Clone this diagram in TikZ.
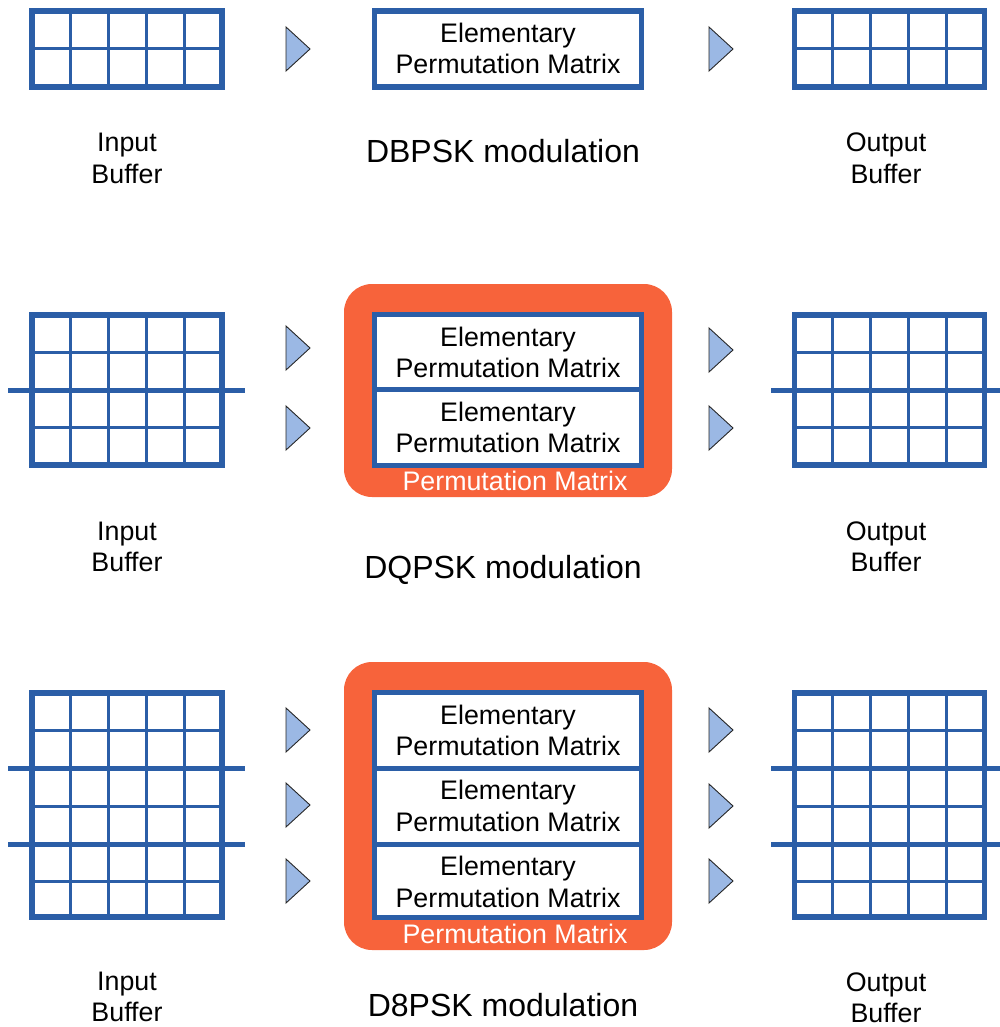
\documentclass[tikz,border=0pt]{standalone}
\usepackage{fontspec}
\setmainfont{Liberation Sans}
\definecolor{gridblue}{RGB}{43,94,167}
\definecolor{triblue}{RGB}{155,184,228}
\definecolor{permorange}{RGB}{247,99,59}

\tikzset{
  gridline/.style={draw=gridblue, line width=3pt},
  frame/.style={draw=gridblue, line width=5.5pt},
  divider/.style={draw=gridblue, line width=5pt},
  tri/.style={fill=triblue, draw=black!85, line width=0.9pt, line join=miter},
  lbl/.style={anchor=base, inner sep=0pt, font=\fontsize{26.8}{31}\selectfont},
  wlbl/.style={lbl, text=white},
  title/.style={anchor=base, inner sep=0pt, font=\fontsize{32}{38}\selectfont},
  permbox/.style={fill=permorange, rounded corners=28pt},
}

% buffer grid: #1 left x, #2 top y, #3 bottom y, #4 inner row lines
\newcommand{\buffergrid}[4]{%
  \foreach \k in {1,2,3,4}
    \draw[gridline] ({#1+38*\k},#2) -- ({#1+38*\k},#3);
  \foreach \yy in {#4}
    \draw[gridline] (#1,\yy) -- ({#1+190},\yy);
  \draw[frame] (#1,#2) rectangle ({#1+190},#3);
}

% small pointer triangle centred at (#1,#2)
\newcommand{\pointer}[2]{%
  \draw[tri] ({#1-12},{#2-22}) -- ({#1+12},#2) -- ({#1-12},{#2+22}) -- cycle;
}

\begin{document}
\begin{tikzpicture}[x=1pt, y=-1pt]
\useasboundingbox (0,0) rectangle (1000,1027);

% ---------------- DBPSK ----------------
\buffergrid{32}{11}{87}{49}
\buffergrid{794.5}{11}{87}{49}
\pointer{298}{49}
\pointer{721}{49}
\draw[frame, fill=white] (374.5,11) rectangle (641.5,87);
\node[lbl] (e1a) at (508,43) {Elementary};
\node[lbl] (e1b) at (508,74) {Permutation Matrix};
\node[lbl] (in1a) at (127,152) {Input};
\node[lbl] (in1b) at (127,183) {Buffer};
\node[lbl] (out1a) at (886,152) {Output};
\node[lbl] (out1b) at (886,183) {Buffer};
\node[title] (t1) at (503,163) {DBPSK modulation};

% ---------------- DQPSK ----------------
\buffergrid{32}{315}{465}{352.5,427.5}
\buffergrid{794.5}{315}{465}{352.5,427.5}
\draw[divider] (8,390) -- (245,390);
\draw[divider] (771,390) -- (1000,390);
\pointer{298}{348}
\pointer{298}{428}
\pointer{721}{350}
\pointer{721}{428}
\fill[permbox] (344,284) rectangle (672,497);
\draw[frame, fill=white] (374.5,314.5) rectangle (641.5,465.5);
\draw[divider] (372,389) -- (644,389);
\node[lbl] (e2a) at (508,346) {Elementary};
\node[lbl] (e2b) at (508,377) {Permutation Matrix};
\node[lbl] (e3a) at (508,421) {Elementary};
\node[lbl] (e3b) at (508,452) {Permutation Matrix};
\node[wlbl] (p2) at (515,490) {Permutation Matrix};
\node[lbl] (in2a) at (127,540) {Input};
\node[lbl] (in2b) at (127,571) {Buffer};
\node[lbl] (out2a) at (886,540) {Output};
\node[lbl] (out2b) at (886,571) {Buffer};
\node[title] (t2) at (503,578) {DQPSK modulation};

% ---------------- D8PSK ----------------
\buffergrid{32}{693}{917}{730.5,806,881}
\buffergrid{794.5}{693}{917}{730.5,806,881}
\draw[divider] (8,768) -- (245,768);
\draw[divider] (8,844) -- (245,844);
\draw[divider] (771,768) -- (1000,768);
\draw[divider] (771,844) -- (1000,844);
\pointer{298}{730}
\pointer{298}{805}
\pointer{298}{881}
\pointer{721}{730}
\pointer{721}{806}
\pointer{721}{881}
\fill[permbox] (344,662) rectangle (672,950);
\draw[frame, fill=white] (374.5,692.5) rectangle (641.5,917.5);
\draw[divider] (372,768) -- (644,768);
\draw[divider] (372,844) -- (644,844);
\node[lbl] (e4a) at (508,724) {Elementary};
\node[lbl] (e4b) at (508,755) {Permutation Matrix};
\node[lbl] (e5a) at (508,799) {Elementary};
\node[lbl] (e5b) at (508,831) {Permutation Matrix};
\node[lbl] (e6a) at (508,875) {Elementary};
\node[lbl] (e6b) at (508,907) {Permutation Matrix};
\node[wlbl] (p3) at (515,943) {Permutation Matrix};
\node[lbl] (in3a) at (127,990) {Input};
\node[lbl] (in3b) at (127,1021) {Buffer};
\node[lbl] (out3a) at (886,991) {Output};
\node[lbl] (out3b) at (886,1022) {Buffer};
\node[title] (t3) at (503,1016) {D8PSK modulation};
\end{tikzpicture}
\end{document}
